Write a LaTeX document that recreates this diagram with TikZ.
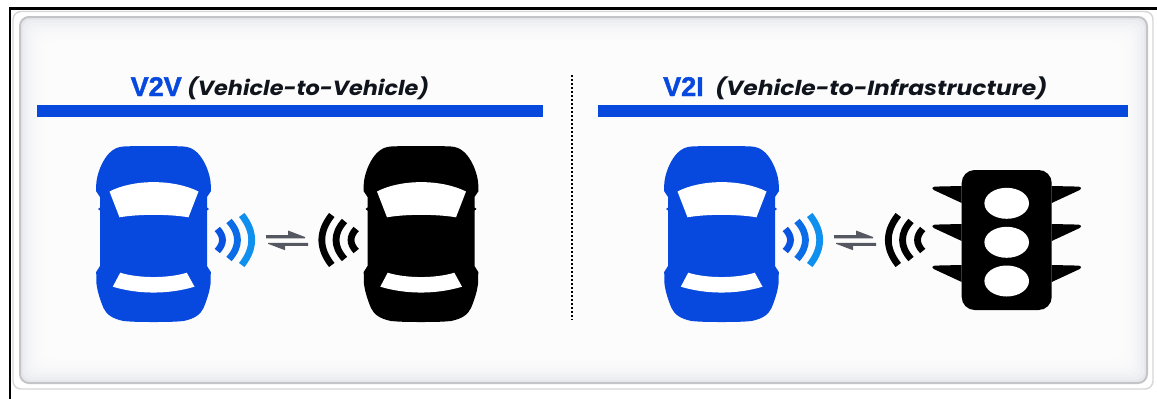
\documentclass[tikz,border=0pt]{standalone}
\usepackage{fontspec}
\setmainfont[FakeStretch=1.08]{Poppins}
\newfontfamily\headfont[FakeBold=1.5]{Liberation Sans}
\definecolor{carblue}{HTML}{0749DE}
\definecolor{barblue}{HTML}{0749DC}
\definecolor{waveA}{HTML}{0A52E0}
\definecolor{waveB}{HTML}{0A6CE6}
\definecolor{waveC}{HTML}{0F8FEE}
\definecolor{arrowgrey}{HTML}{555860}
\definecolor{edgegrey}{HTML}{D6D6D8}
\definecolor{edgedark}{HTML}{C2C4C6}
\definecolor{panelA}{HTML}{E6E8EC}
\definecolor{titleink}{HTML}{10141C}
\tikzset{
  x=1pt,y=-1pt,
  barstyle/.style={fill=barblue,draw=none},
  wavestroke/.style={line width=6.8pt,line cap=butt},
  mainlabel/.style={font=\headfont\bfseries\fontsize{27}{27}\selectfont,text=carblue,anchor=base west,inner sep=0pt},
  sublabel/.style={font=\bfseries\itshape\fontsize{20.5}{20.5}\selectfont,text=titleink,anchor=base west,inner sep=0pt},
}
\newcommand{\carbody}[2]{%
  \begin{scope}[shift={(#1,234)}]
    \fill[#2] (0,-88) .. controls (10,-88) and (20,-88) .. (30,-87.5)
      .. controls (40,-87) and (46,-80) .. (50,-73)
      .. controls (54,-66) and (57,-57) .. (57.3,-49) -- (57.5,-43) -- (53.5,-37) -- (53.5,-26.5) -- (55.5,-25) -- (53.5,-23.5)
      -- (53.5,32) -- (57.3,38) -- (57,50) .. controls (56,58) and (53,67) .. (50,74)
      .. controls (47,81) and (40,85) .. (30,87)
      .. controls (20,88) and (10,88) .. (0,88)
      .. controls (-10,88) and (-20,88) .. (-30,87)
      .. controls (-40,85) and (-47,81) .. (-50,74)
      .. controls (-53,67) and (-56,58) .. (-57,50) -- (-57.3,38) -- (-53.5,32)
      -- (-53.5,-23.5) -- (-55.5,-25) -- (-53.5,-26.5) -- (-53.5,-37) -- (-57.5,-43) -- (-57.3,-49)
      .. controls (-57,-57) and (-54,-66) .. (-50,-73)
      .. controls (-46,-80) and (-40,-87) .. (-30,-87.5)
      .. controls (-20,-88) and (-10,-88) .. (0,-88) -- cycle;
    \fill[white] (-44,-42.5) .. controls (-20,-55) and (20,-55) .. (45,-42.5)
      -- (35,-16.7) .. controls (15,-20) and (-15,-20) .. (-34,-16.7) -- cycle;
    \fill[white] (-33.3,38.7) .. controls (-15,44.5) and (15,44.5) .. (33.3,38.7)
      -- (41,52.7) .. controls (15,60.5) and (-15,60.5) .. (-40.7,52.7) -- cycle;
  \end{scope}}
\newcommand{\signal}[5]{%
  \begin{scope}[shift={(#1,240)},xscale=#2]
    \draw[wavestroke,#3] (1.3,-11) .. controls (8.2,-3.7) and (8.2,3.7) .. (1.3,11);
    \draw[wavestroke,#4] (13,-19) .. controls (24.3,-6.3) and (24.3,6.3) .. (13,19);
    \draw[wavestroke,#5] (25.7,-25) .. controls (39,-8.3) and (39,8.3) .. (25.7,25);
  \end{scope}}
\newcommand{\exchange}[1]{%
  \begin{scope}[shift={(#1,0)}]
    \fill[arrowgrey] (266,235.2) -- (288,235.2) -- (288,230.5) -- (305,237) -- (305,238.3) -- (266,238.3) -- cycle;
    \fill[arrowgrey] (268,242.8) -- (308,242.8) -- (308,245.8) -- (285,245.8) -- (285,250.2) -- (268,243.8) -- cycle;
  \end{scope}}
\begin{document}
\begin{tikzpicture}
\useasboundingbox (0,0) rectangle (1157,399);
\fill[white] (0,0) rectangle (1157,399);
% outer frame
\draw[black,line width=2.6pt] (1157,8.5) -- (10,8.5) -- (10,399);
\draw[edgegrey,line width=1.4pt,rounded corners=8pt] (13,11.5) rectangle (1153,389);
% panel
\fill[panelA,rounded corners=9pt] (20,17) rectangle (1147,383);
\foreach \i in {1,...,14}{
  \fill[white,opacity=0.28,rounded corners=9pt] (20+\i*3,17+\i*3) rectangle (1147-\i*3,383-\i*3);
}
\draw[edgedark,line width=2pt,rounded corners=9pt] (20,17) rectangle (1147,383);
% titles
\node[mainlabel] (ttlA) at (130.5,96) {V2V};
\node[sublabel,xscale=1.01,transform shape] (subA) at (187,95.5) {(Vehicle-to-Vehicle)};
\node[mainlabel] (ttlB) at (663,96) {V2I};
\node[sublabel,xscale=1.055,transform shape] (subB) at (715,95.5) {(Vehicle-to-Infrastructure)};
% bars
\fill[barstyle] (37,105) rectangle (543,117);
\fill[barstyle] (598,105) rectangle (1128,117);
% divider
\draw[black,line width=1.6pt,dash pattern=on 1.6pt off 2.4pt] (572,75) -- (572,320);
% left
\carbody{153.5}{carblue}
\signal{216}{1}{waveA}{waveB}{waveC}
\exchange{0}
\signal{357.5}{-1}{black}{black}{black}
\carbody{421}{black}
% right
\carbody{721.5}{carblue}
\signal{784}{1}{waveA}{waveB}{waveC}
\exchange{568}
\signal{924}{-1}{black}{black}{black}
% traffic light
\begin{scope}[shift={(1006.7,0)}]
  \foreach \dy in {0,38,79}{
    \fill[black] (-45,186+\dy) -- (-72,186.6+\dy) .. controls (-75,187.5+\dy) and (-75,189+\dy) .. (-73,190+\dy) -- (-45,203+\dy) -- cycle;
    \fill[black] (45,186+\dy) -- (72,186.6+\dy) .. controls (75,187.5+\dy) and (75,189+\dy) .. (73,190+\dy) -- (45,203+\dy) -- cycle;
  }
  \fill[black,rounded corners=13pt] (-45,170) rectangle (45,310);
  \fill[white] (0,203.3) ellipse [x radius=22.3,y radius=15.5];
  \fill[white] (0,242.3) ellipse [x radius=22.3,y radius=15.5];
  \fill[white] (0,281) ellipse [x radius=22.3,y radius=15.5];
\end{scope}
\end{tikzpicture}
\end{document}
